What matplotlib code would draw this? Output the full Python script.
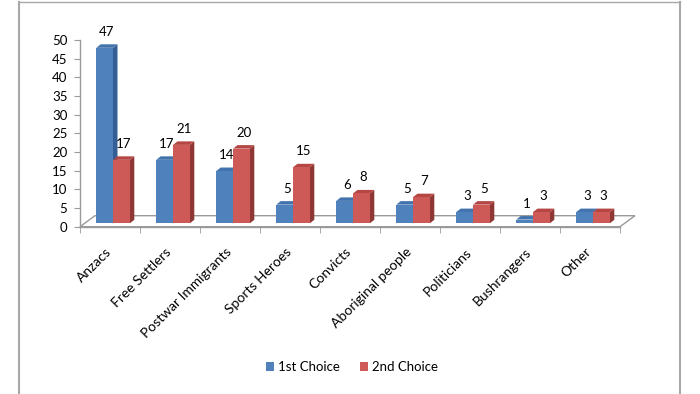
import matplotlib
matplotlib.use('Agg')
import matplotlib.pyplot as plt
from matplotlib.patches import Polygon
from matplotlib.lines import Line2D
from matplotlib.transforms import offset_copy
import numpy as np

plt.rcParams['font.family'] = ['Lato', 'DejaVu Sans']
plt.rcParams['font.size'] = 8.5

categories = ['Anzacs', 'Free Settlers', 'Postwar Immigrants', 'Sports Heroes',
              'Convicts', 'Aboriginal people', 'Politicians', 'Bushrangers', 'Other']
first_choice = [47, 17, 14, 5, 6, 5, 3, 1, 3]
second_choice = [17, 21, 20, 15, 8, 7, 5, 3, 3]
series_names = ['1st Choice', '2nd Choice']

# front / top / side colours for the fake 3D look
blue = ('#4f81bd', '#4273ad', '#355f94')
red = ('#cd5a56', '#b54643', '#8f3734')

W, H, DPI = 700, 394, 100
fig = plt.figure(figsize=(W / DPI, H / DPI), dpi=DPI)

# axes in pixel positions (from top-left)
x0, x1 = 80, 620
y_top, y_zero = 40, 226.7
ax = fig.add_axes([x0 / W, (H - y_zero) / H, (x1 - x0) / W, (y_zero - y_top) / H])
n = len(categories)
ax.set_xlim(-0.5, n - 0.5)
ax.set_ylim(0, 50)
ax.patch.set_visible(False)
for s in ['top', 'right']:
    ax.spines[s].set_visible(False)
for s in ['left', 'bottom']:
    ax.spines[s].set_color('#9a9a9a')
    ax.spines[s].set_linewidth(1.0)
ax.set_yticks(np.arange(0, 51, 5))
ax.tick_params(axis='y', length=4, color='#9a9a9a', pad=5, labelsize=9.5)
ax.set_xticks([])
ax.set_xticks(np.arange(n + 1) - 0.5, minor=True)
ax.tick_params(axis='x', which='minor', length=4, color='#9a9a9a')

# category labels, rotated, ending just below each category
lab_tr = offset_copy(ax.transData, fig, x=-5, y=-19, units='dots')
for i, c in enumerate(categories):
    ax.text(i, 0, c, transform=lab_tr, rotation=45, ha='right', va='top',
            rotation_mode='anchor', fontsize=10, clip_on=False)

to_disp = ax.transData.transform

# floor (depth offset in pixels)
fdx, fdy = 15, 11
p0 = to_disp((-0.5, 0))
p1 = to_disp((n - 0.5, 0))
floor = Polygon([p0, p1, p1 + (fdx, fdy), p0 + (fdx, fdy)], closed=True,
                fill=False, edgecolor='#9a9a9a', lw=1.0, transform=None, zorder=1)
fig.add_artist(floor)

# bars: front face shift and depth in pixels
sx, sy = 3.0, 3.4
dx, dy = 4.5, 3.5
bw = 0.28
for i in range(n):
    for j, (vals, cols) in enumerate([(first_choice, blue), (second_choice, red)]):
        v = vals[i]
        left = i - bw + j * bw
        bl = to_disp((left, 0)) + (sx, sy)
        br = to_disp((left + bw, 0)) + (sx, sy)
        tl = to_disp((left, v)) + (sx, sy)
        tr = to_disp((left + bw, v)) + (sx, sy)
        z = 3 + 3 * j
        side = Polygon([br, tr, tr + (dx, dy), br + (dx, dy)], closed=True,
                       facecolor=cols[2], edgecolor='none', transform=None, zorder=z)
        top = Polygon([tl, tr, tr + (dx, dy), tl + (dx, dy)], closed=True,
                      facecolor=cols[1], edgecolor='none', transform=None, zorder=z + 1)
        front = Polygon([bl, br, tr, tl], closed=True,
                        facecolor=cols[0], edgecolor='none', transform=None, zorder=z + 2)
        for p in (side, top, front):
            fig.add_artist(p)
        cx = (tl[0] + tr[0]) / 2 + dx / 2
        fig.text(cx / W, (tl[1] + 16) / H, str(v), ha='center', va='center',
                 fontsize=9.5, zorder=10)

# legend
handles = [Polygon([[0, 0]], facecolor=blue[0], edgecolor='none'),
           Polygon([[0, 0]], facecolor=red[0], edgecolor='none')]
fig.legend(handles, series_names, loc='center', bbox_to_anchor=(352 / W, (H - 367) / H),
           ncol=2, frameon=False, handlelength=0.6, handleheight=0.6,
           handletextpad=0.3, columnspacing=1.6, fontsize=9.5)

# chart border
bc = '#a8a8a8'
fig.add_artist(Line2D([18.5 / W, 18.5 / W], [0, 1 - 1.5 / H], color=bc, lw=1.5, transform=fig.transFigure))
fig.add_artist(Line2D([679.5 / W, 679.5 / W], [0, 1 - 1.5 / H], color=bc, lw=1.5, transform=fig.transFigure))
fig.add_artist(Line2D([18.5 / W, 679.5 / W], [1 - 1.5 / H, 1 - 1.5 / H], color=bc, lw=1.0, transform=fig.transFigure))

fig.savefig('out.png', dpi=DPI, facecolor='white')
